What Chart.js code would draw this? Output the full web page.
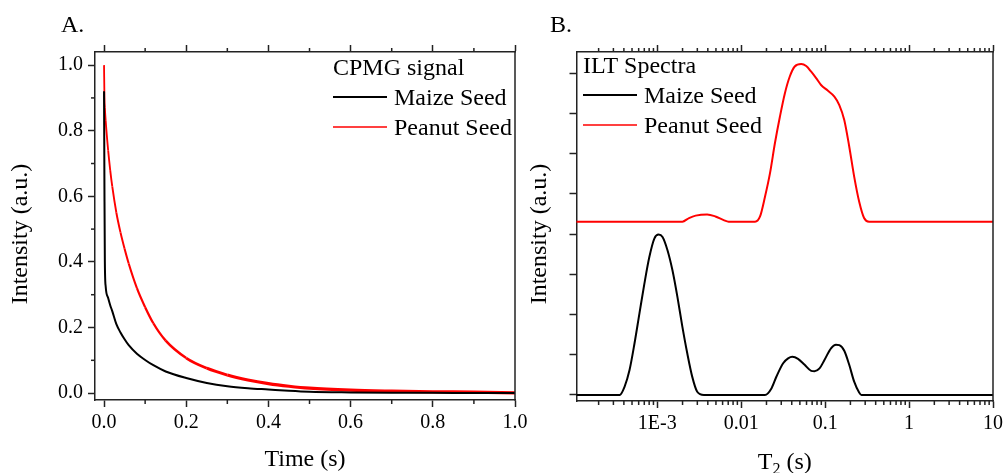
<!DOCTYPE html>
<html>
<head>
<meta charset="utf-8" />
<title>CPMG signal / ILT spectra</title>
<script src="https://cdn.jsdelivr.net/npm/chart.js@4.4.1/dist/chart.umd.min.js"></script>
<style>
  body { margin: 0; background: #fff; }
  #wrap { position: relative; width: 1007px; height: 473px; overflow: hidden; }
  canvas { position: absolute; top: 0; }
  #chartA { left: 0; }
  #chartB { left: 500px; }
</style>
</head>
<body>
<div id="wrap">
  <canvas id="chartA" width="540" height="473"></canvas>
  <canvas id="chartB" width="507" height="473"></canvas>
</div>

<script>
// ---- panel A : CPMG decay ----
var timeA = [0, 0.001, 0.002, 0.004, 0.01, 0.015, 0.02, 0.03, 0.04, 0.05, 0.06, 0.08, 0.1, 0.12, 0.15,
             0.2, 0.25, 0.3, 0.35, 0.4, 0.45, 0.5, 0.6, 0.7, 0.8, 0.9, 1.0];
var maizeA = [0.92, 0.62, 0.40, 0.325, 0.29, 0.268, 0.25, 0.21, 0.185, 0.164, 0.146, 0.120, 0.101, 0.085, 0.066,
              0.046, 0.031, 0.021, 0.015, 0.011, 0.007, 0.004, 0.002, 0.001, 0.001, 0.0, 0.0];
var peanutA = [1.0, 0.90, 0.87, 0.83, 0.74, 0.68, 0.63, 0.55, 0.49, 0.44, 0.395, 0.32, 0.262, 0.213, 0.160,
               0.107, 0.076, 0.055, 0.040, 0.029, 0.021, 0.015, 0.009, 0.006, 0.004, 0.003, 0.001];
var timeTicks = [0, 0.2, 0.4, 0.6, 0.8, 1.0];
var timeMinor = [0.1, 0.3, 0.5, 0.7, 0.9];
var intTicks = [0, 0.2, 0.4, 0.6, 0.8, 1.0];
var intMinor = [0.1, 0.3, 0.5, 0.7, 0.9];

// ---- panel B : ILT spectra (peanut drawn with its offset) ----
var maizeT2 = [1.0e-4, 3.56e-4, 4.08e-4, 4.67e-4, 5.35e-4, 6.13e-4, 7.02e-4, 8.04e-4, 9.22e-4, 1.036e-3,
               1.155e-3, 1.323e-3, 1.516e-3, 1.737e-3, 1.989e-3, 2.279e-3, 2.611e-3, 2.991e-3, 3.59e-3,
               0.0192, 0.0230, 0.0263, 0.0316, 0.0362, 0.0406, 0.0475, 0.0570, 0.0682, 0.0747, 0.0857,
               0.0981, 0.1174, 0.1345, 0.1475, 0.1690, 0.1936, 0.2218, 0.2541, 0.2704, 10];
var maizeAmp = [0, 0, 0.21, 0.62, 1.28, 2.03, 2.77, 3.43, 3.89, 3.99,
                3.93, 3.60, 3.10, 2.44, 1.70, 1.03, 0.45, 0.08, 0,
                0, 0.17, 0.46, 0.79, 0.91, 0.95, 0.90, 0.75, 0.60, 0.59, 0.66,
                0.87, 1.16, 1.25, 1.24, 1.10, 0.75, 0.33, 0.06, 0, 0];
var peanutT2 = [1.0e-4, 1.99e-3, 2.387e-3, 2.863e-3, 3.925e-3, 4.93e-3, 6.18e-3, 7.08e-3,
                0.01463, 0.01676, 0.0192, 0.0220, 0.0252, 0.0289, 0.0331, 0.0379, 0.0434, 0.0519,
                0.0595, 0.0682, 0.0781, 0.0894, 0.1073, 0.1288, 0.1475, 0.1690, 0.1936, 0.2218,
                0.2541, 0.2911, 0.3334, 10];
var peanutAmp = [4.31, 4.31, 4.40, 4.46, 4.49, 4.44, 4.35, 4.31,
                 4.31, 4.44, 4.93, 5.51, 6.26, 6.92, 7.50, 7.92, 8.17, 8.23,
                 8.18, 8.04, 7.88, 7.71, 7.57, 7.42, 7.21, 6.84, 6.18, 5.43,
                 4.81, 4.40, 4.31, 4.31];
var t2Ticks = [1e-3, 0.01, 0.1, 1, 10];
var t2Labels = ["1E-3", "0.01", "0.1", "1", "10"];
var t2Decades = [1e-4, 1e-3, 0.01, 0.1, 1];
var t2Steps = [2, 3, 4, 5, 6, 7, 8, 9];
var ampTicks = [0, 1, 2, 3, 4, 5, 6, 7, 8];

var seriesNames = ["Maize Seed", "Peanut Seed"];
var seriesColors = ["#000000", "#ff0000"];

var FONT = "'Liberation Serif', 'Times New Roman', serif";
var AXIS = "#222";
Chart.defaults.font.family = FONT;
Chart.defaults.color = "#000";

function xy(xs, ys) {
  return xs.map(function (x, i) { return { x: x, y: ys[i] }; });
}

var t2Minor = [];
t2Decades.forEach(function (d) {
  t2Steps.forEach(function (s) { t2Minor.push(d * s); });
});

// frame, minor ticks, titles and legend
var decor = {
  id: "decor",
  afterDraw: function (chart, args, o) {
    var ctx = chart.ctx, a = chart.chartArea;
    ctx.save();
    ctx.strokeStyle = AXIS;
    ctx.lineWidth = 1.5;
    ctx.beginPath();
    ctx.moveTo(a.right, a.top - 0.75);
    ctx.lineTo(a.right, a.bottom + 0.75);
    ctx.stroke();

    o.minor.forEach(function (m) {
      var s = chart.scales[m.axis];
      m.values.forEach(function (v) {
        if (v < s.min || v > s.max) return;
        var p = s.getPixelForValue(v);
        ctx.beginPath();
        if (s.isHorizontal()) {
          var y0 = s.position === "top" ? a.top : a.bottom;
          ctx.moveTo(p, y0);
          ctx.lineTo(p, y0 + (s.position === "top" ? -4 : 4));
        } else {
          ctx.moveTo(a.left, p);
          ctx.lineTo(a.left - 4, p);
        }
        ctx.stroke();
      });
    });

    ctx.fillStyle = "#000";
    ctx.textBaseline = "alphabetic";
    ctx.textAlign = "left";
    ctx.font = "24px " + FONT;
    ctx.fillText(o.panel, o.panelX, 32);

    // x title
    if (o.sub) {
      ctx.font = "24px " + FONT;
      var w1 = ctx.measureText(o.xTitle).width;
      ctx.font = "16px " + FONT;
      var w2 = ctx.measureText(o.sub).width;
      ctx.font = "24px " + FONT;
      var w3 = ctx.measureText(o.xTitleEnd).width;
      var x0 = (a.left + a.right) / 2 - (w1 + w2 + w3) / 2;
      ctx.fillText(o.xTitle, x0, o.xTitleY);
      ctx.font = "16px " + FONT;
      ctx.fillText(o.sub, x0 + w1, o.xTitleY + 5);
      ctx.font = "24px " + FONT;
      ctx.fillText(o.xTitleEnd, x0 + w1 + w2, o.xTitleY);
    } else {
      ctx.textAlign = "center";
      ctx.fillText(o.xTitle, (a.left + a.right) / 2, o.xTitleY);
    }

    // y title
    ctx.save();
    ctx.translate(o.yTitleX, 234);
    ctx.rotate(-Math.PI / 2);
    ctx.textAlign = "center";
    ctx.textBaseline = "middle";
    ctx.fillText("Intensity (a.u.)", 0, 0);
    ctx.restore();

    // legend
    ctx.textAlign = "left";
    ctx.font = "24px " + FONT;
    ctx.fillText(o.legendTitle, o.legX, o.legY);
    chart.data.datasets.forEach(function (ds, i) {
      var ly = o.legLineY + i * 30;
      ctx.strokeStyle = ds.borderColor;
      ctx.lineWidth = i === 0 ? 2 : 1.6;
      ctx.beginPath();
      ctx.moveTo(o.legX, ly);
      ctx.lineTo(o.legX + 54, ly);
      ctx.stroke();
      ctx.fillText(ds.label, o.legX + 61, ly + 8);
    });
    ctx.restore();
  }
};

function axisStyle() {
  return {
    grid: { drawOnChartArea: false, tickLength: 7, tickColor: AXIS, tickWidth: 1.5 },
    border: { color: AXIS, width: 1.5 }
  };
}

function setTicks(list) {
  return function (s) { s.ticks = list.map(function (v) { return { value: v }; }); };
}

var ctxA = document.getElementById("chartA");
var chartA = new Chart(ctxA, {
  type: "line",
  data: {
    datasets: [
      { label: seriesNames[0], data: xy(timeA, maizeA), borderColor: seriesColors[0], borderWidth: 2,
        pointRadius: 0, cubicInterpolationMode: "monotone" },
      { label: seriesNames[1], data: xy(timeA, peanutA), borderColor: seriesColors[1], borderWidth: 1.8,
        pointRadius: 0, cubicInterpolationMode: "monotone",
        segment: { borderWidth: function (c) { return 1.8 + 1.4 * Math.min(1, c.p0.parsed.x / 0.3); } } }
    ]
  },
  options: {
    responsive: false,
    animation: false,
    events: [],
    layout: { padding: { left: 0, right: 25, top: 0, bottom: 0 } },
    scales: {
      x: Object.assign(axisStyle(), {
        type: "linear", position: "bottom", min: -0.022, max: 1.0,
        afterBuildTicks: setTicks(timeTicks),
        afterFit: function (s) { s.height = 73; },
        ticks: { callback: function (v) { return v.toFixed(1); }, font: { size: 20 }, padding: 4,
                 maxRotation: 0, autoSkip: false }
      }),
      xTop: Object.assign(axisStyle(), {
        type: "linear", position: "top", min: -0.022, max: 1.0,
        afterBuildTicks: setTicks(timeTicks),
        afterFit: function (s) { s.height = 52; },
        ticks: { display: false }
      }),
      y: Object.assign(axisStyle(), {
        type: "linear", position: "left", min: -0.021, max: 1.04,
        afterBuildTicks: setTicks(intTicks),
        afterFit: function (s) { s.width = 95; },
        ticks: { callback: function (v) { return v.toFixed(1); }, font: { size: 20 }, padding: 5 }
      })
    },
    plugins: {
      legend: { display: false },
      tooltip: { enabled: false },
      decor: {
        panel: "A.", panelX: 61,
        xTitle: "Time (s)", xTitleY: 466,
        yTitleX: 21,
        legendTitle: "CPMG signal", legX: 333, legY: 75, legLineY: 97,
        minor: [
          { axis: "x", values: timeMinor },
          { axis: "xTop", values: timeMinor },
          { axis: "y", values: intMinor }
        ]
      }
    }
  },
  plugins: [decor]
});

var ctxB = document.getElementById("chartB");
var chartB = new Chart(ctxB, {
  type: "line",
  data: {
    datasets: [
      { label: seriesNames[0], data: xy(maizeT2, maizeAmp), borderColor: seriesColors[0], borderWidth: 2,
        pointRadius: 0, cubicInterpolationMode: "monotone" },
      { label: seriesNames[1], data: xy(peanutT2, peanutAmp), borderColor: seriesColors[1], borderWidth: 2,
        pointRadius: 0, cubicInterpolationMode: "monotone" }
    ]
  },
  options: {
    responsive: false,
    animation: false,
    events: [],
    layout: { padding: { left: 0, right: 10, top: 0, bottom: 0 } },
    scales: {
      x: Object.assign(axisStyle(), {
        type: "logarithmic", position: "bottom", min: 1.09e-4, max: 10,
        afterBuildTicks: setTicks(t2Ticks),
        afterFit: function (s) { s.height = 72; },
        ticks: { callback: function (v, i) { return t2Labels[i]; }, font: { size: 20 }, padding: 4,
                 maxRotation: 0, autoSkip: false }
      }),
      xTop: Object.assign(axisStyle(), {
        type: "logarithmic", position: "top", min: 1.09e-4, max: 10,
        afterBuildTicks: setTicks(t2Ticks),
        afterFit: function (s) { s.height = 52; },
        ticks: { display: false }
      }),
      y: Object.assign(axisStyle(), {
        type: "linear", position: "left", min: -0.15, max: 8.53,
        afterBuildTicks: setTicks(ampTicks),
        afterFit: function (s) { s.width = 76.5; },
        ticks: { display: false }
      })
    },
    plugins: {
      legend: { display: false },
      tooltip: { enabled: false },
      decor: {
        panel: "B.", panelX: 50,
        xTitle: "T", sub: "2", xTitleEnd: " (s)", xTitleY: 469,
        yTitleX: 40,
        legendTitle: "ILT Spectra", legX: 83, legY: 73, legLineY: 95,
        minor: [
          { axis: "x", values: t2Minor },
          { axis: "xTop", values: t2Minor }
        ]
      }
    }
  },
  plugins: [decor]
});
</script>
</body>
</html>
